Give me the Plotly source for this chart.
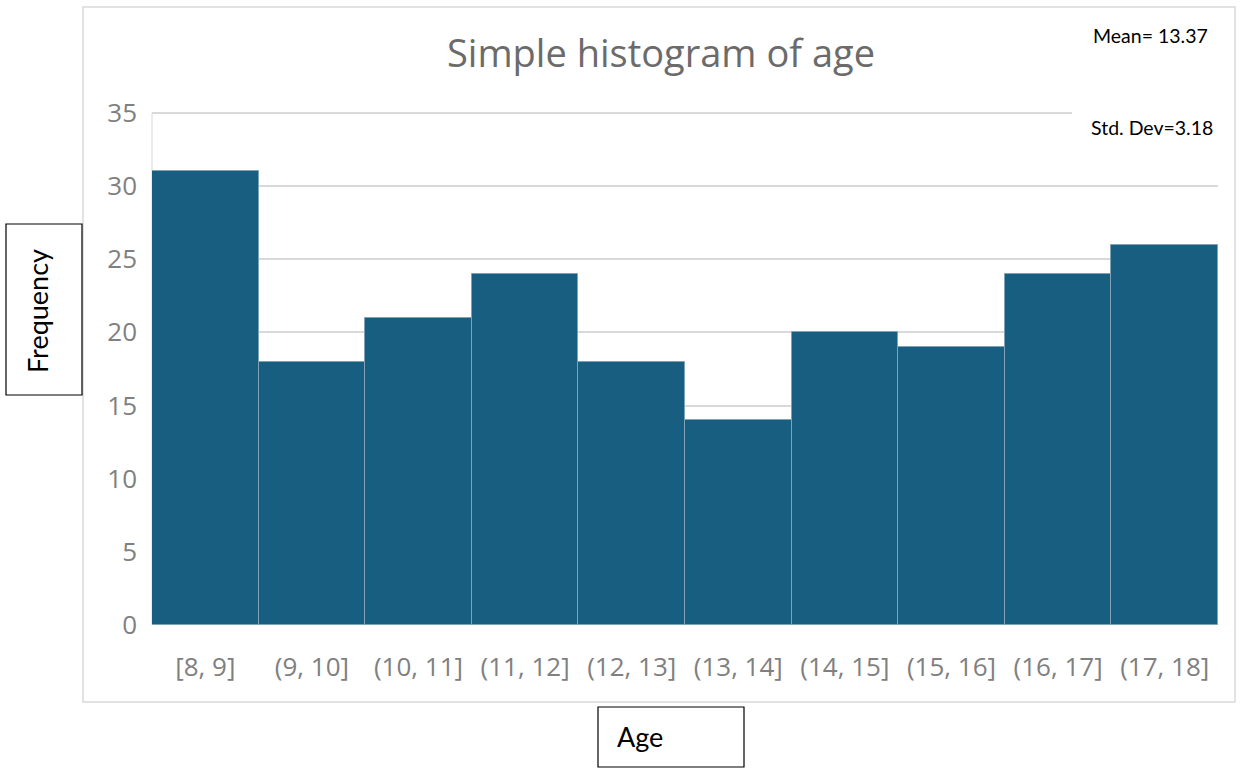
import plotly.graph_objects as go

# Age bins and counts per bin
age_bins = ["[8, 9]", "(9, 10]", "(10, 11]", "(11, 12]", "(12, 13]",
            "(13, 14]", "(14, 15]", "(15, 16]", "(16, 17]", "(17, 18]"]
frequency = [31, 18, 21, 24, 18, 14, 20, 19, 24, 26]
y_ticks = [0, 5, 10, 15, 20, 25, 30, 35]

mean_text = "Mean= 13.37"
std_text = "Std. Dev=3.18"

W, H = 1241, 768
Y_MAX = 35.2
# plot area in pixels (value 35 sits at pixel row 113)
L, R, B = 152, 1218, 625
T = round(B - (B - 113) * Y_MAX / 35)


def px(x):
    return (x - L) / (R - L)


def py(y):
    return (B - y) / (B - T)


fig = go.Figure(go.Bar(
    x=age_bins,
    y=frequency,
    marker=dict(color="#175e80", line=dict(color="#7fa3b6", width=1)),
    width=1.0,
))

tick_font = dict(family="Open Sans", size=26, color="#808080")

fig.update_layout(
    width=W, height=H,
    margin=dict(l=L, r=W - R, t=T, b=H - B),
    paper_bgcolor="white",
    plot_bgcolor="white",
    showlegend=False,
    bargap=0,
    xaxis=dict(showgrid=False, tickfont=tick_font, ticks="", ticklabelstandoff=24,
               showline=False, zeroline=False),
    yaxis=dict(range=[0, Y_MAX], tickvals=y_ticks, tickfont=tick_font,
               showgrid=True, gridcolor="#d9d9d9", gridwidth=2,
               zeroline=False, ticks="", ticklabelstandoff=14),
    shapes=[
        # outer chart border
        dict(type="rect", xref="paper", yref="paper",
             x0=px(83), x1=px(1235), y0=py(7), y1=py(702),
             line=dict(color="#d9d9d9", width=1.5), layer="below"),
        # light vertical axis line from 0 up to 35
        dict(type="line", xref="paper", yref="y",
             x0=0, x1=0, y0=0, y1=35,
             line=dict(color="#d9d9d9", width=1), layer="below"),
        # white box behind the std-dev note
        dict(type="rect", xref="paper", yref="paper",
             x0=px(1072), x1=px(1222), y0=py(100), y1=py(155),
             fillcolor="white", line=dict(width=0), layer="above"),
        # y title frame
        dict(type="rect", xref="paper", yref="paper",
             x0=px(6), x1=px(82), y0=py(224), y1=py(395),
             line=dict(color="black", width=1.2), fillcolor="white"),
        # x title frame
        dict(type="rect", xref="paper", yref="paper",
             x0=px(598), x1=px(744), y0=py(707), y1=py(767),
             line=dict(color="black", width=1.2), fillcolor="white"),
    ],
    annotations=[
        dict(text="Simple histogram of age", xref="paper", yref="paper",
             x=px(661), y=py(52), xanchor="center", yanchor="middle",
             showarrow=False,
             font=dict(family="Open Sans", size=38, color="#6b6b6b")),
        dict(text=mean_text, xref="paper", yref="paper",
             x=px(1091), y=py(35), xanchor="left", yanchor="middle",
             showarrow=False,
             font=dict(family="Lato", size=19.5, color="black")),
        dict(text=std_text, xref="paper", yref="paper",
             x=px(1089), y=py(127), xanchor="left", yanchor="middle",
             showarrow=False,
             font=dict(family="Lato", size=19.5, color="black")),
        dict(text="Frequency", xref="paper", yref="paper",
             x=px(37), y=py(311), xanchor="center", yanchor="middle",
             textangle=-90, showarrow=False,
             font=dict(family="Lato", size=27, color="black")),
        dict(text="Age", xref="paper", yref="paper",
             x=px(640), y=py(736), xanchor="center", yanchor="middle",
             showarrow=False,
             font=dict(family="Lato", size=27, color="black")),
    ],
)

fig.write_html("out.html")
